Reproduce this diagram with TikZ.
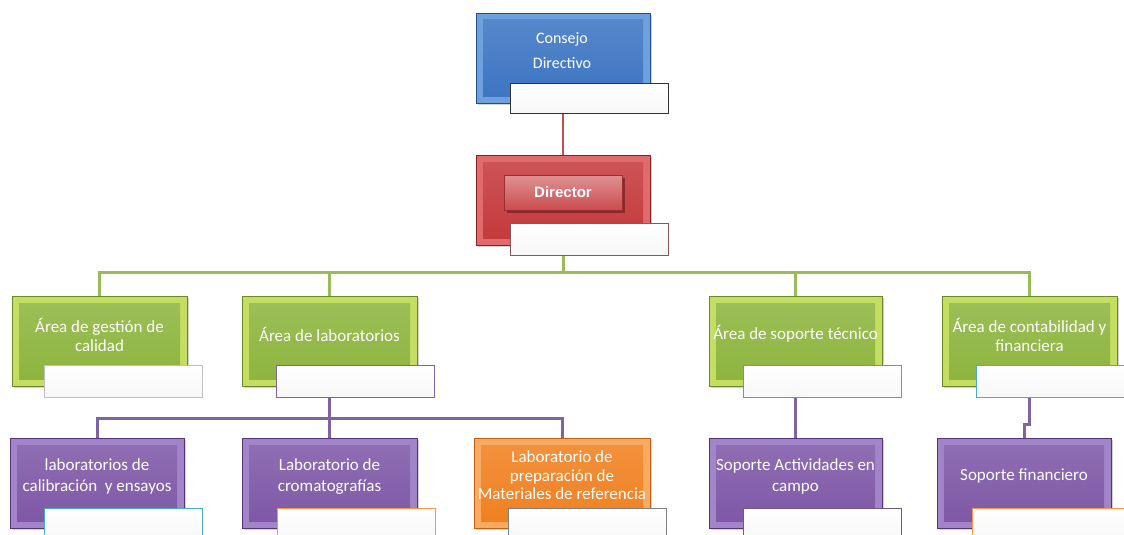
\documentclass[tikz,border=0pt]{standalone}
\usepackage{fontspec}
\setmainfont{Carlito}
\newfontfamily\arialfont{Liberation Sans}
\usetikzlibrary{shadows}
\definecolor{bMain}{HTML}{3B74C2}\definecolor{bBev}{HTML}{6FA0DE}\definecolor{bEdge}{HTML}{1F4E8C}
\definecolor{rMain}{HTML}{C4383B}\definecolor{rBev}{HTML}{E06A6C}\definecolor{rEdge}{HTML}{8B1F22}
\definecolor{gMain}{HTML}{8CB43C}\definecolor{gBev}{HTML}{C4DE62}\definecolor{gEdge}{HTML}{6A8A2A}
\definecolor{pMain}{HTML}{7D56A6}\definecolor{pBev}{HTML}{A285C8}\definecolor{pEdge}{HTML}{56347A}
\definecolor{oMain}{HTML}{F07F1E}\definecolor{oBev}{HTML}{F8AA62}\definecolor{oEdge}{HTML}{C06010}
\definecolor{lnRed}{HTML}{C0504D}\definecolor{lnGreen}{HTML}{9BBB59}\definecolor{lnPurple}{HTML}{8064A2}
\definecolor{edTeal}{HTML}{4BACC6}\definecolor{edOrange}{HTML}{F79646}
\tikzset{
  mainbox/.style n args={3}{rectangle, inner sep=0pt, minimum width=175pt, minimum height=90pt,
    draw=#3, line width=0.8pt, fill=#2,
    drop shadow={shadow xshift=2pt, shadow yshift=-2pt, opacity=0.35},
    path picture={\fill[top color=#1!85!white, bottom color=#1]
      ([shift={(7pt,7pt)}]path picture bounding box.south west) rectangle
      ([shift={(-7pt,-7pt)}]path picture bounding box.north east);}},
  subbox/.style={rectangle, inner sep=0pt, minimum width=158pt, minimum height=31pt,
    draw=#1, line width=1pt, top color=white, bottom color=white!94!gray},
  boxtext/.style={text=white, align=center, font=\fontsize{17}{19}\selectfont, inner sep=0pt},
  conn/.style={line width=3pt, draw=#1},
}
\begin{document}
\begin{tikzpicture}[x=1pt,y=-1pt]
\clip (0,0) rectangle (1124,535);
\fill[white] (0,0) rectangle (1124,535);
\coordinate (busG) at (0,272);
\coordinate (busP) at (0,418);
\coordinate (jog) at (0,424);
% top
\node[mainbox={bMain}{bBev}{bEdge}, minimum width=174pt] (cd) at (563,58) {};
\node[boxtext, font=\fontsize{16}{25}\selectfont] (tcd) at (562,50.5) {Consejo\\Directivo};
\node[subbox=black!80, minimum height=30pt] (csub) at (589,98) {};
% director
\node[mainbox={rMain}{rBev}{rEdge}, minimum width=174pt] (dir) at (563,200) {};
\node[rectangle, inner sep=0pt, minimum width=118pt, minimum height=35pt,
  top color=rMain!55!white, bottom color=rMain!90!white, draw=rMain!80!black,
  drop shadow={shadow xshift=3pt, shadow yshift=-3pt, opacity=0.6, fill=rEdge!70!black},
  text=white, font=\arialfont\bfseries\fontsize{15}{17}\selectfont] (dbar) at (563,192.5) {Director};
\node[subbox=rEdge!40!gray, minimum height=32pt] (dsub) at (589,239) {};
% green row
\node[mainbox={gMain}{gBev}{gEdge}] (g1) at (99.5,341) {};
\node[boxtext] (tg1) at (99.5,334.5) {Área de gestión de\\calidad};
\node[subbox=black!25, minimum height=32pt] (g1sub) at (123,381) {};
\node[mainbox={gMain}{gBev}{gEdge}] (g2) at (329.5,341) {};
\node[boxtext] (tg2) at (329.5,334) {Área de laboratorios};
\node[subbox=lnPurple, minimum height=32pt] (g2sub) at (355.5,381) {};
\node[mainbox={gMain}{gBev}{gEdge}, minimum width=173pt] (g3) at (795.5,341) {};
\node[boxtext] (tg3) at (795.5,334) {Área de soporte técnico};
\node[subbox=black!45, minimum height=32pt] (g3sub) at (822,381) {};
\node[mainbox={gMain}{gBev}{gEdge}] (g4) at (1029.5,341) {};
\node[boxtext] (tg4) at (1029.5,334.5) {Área de contabilidad y\\financiera};
\node[subbox=edTeal, minimum height=32pt] (g4sub) at (1055,381) {};
% bottom row
\node[mainbox={pMain}{pBev}{pEdge}, minimum width=174pt] (b1) at (97,483) {};
\node[boxtext, font=\fontsize{17}{21}\selectfont] (tb1) at (97,476.5) {laboratorios de\\calibración~ y ensayos};
\node[subbox=edTeal] (b1sub) at (123,523.5) {};
\node[mainbox={pMain}{pBev}{pEdge}] (b2) at (329.5,483) {};
\node[boxtext, font=\fontsize{17}{21}\selectfont] (tb2) at (329.5,476.5) {Laboratorio de\\cromatografías};
\node[subbox=edOrange] (b2sub) at (356,523.5) {};
\node[mainbox={oMain}{oBev}{oEdge}, minimum width=176pt] (b3) at (562,483) {};
\node[boxtext, font=\fontsize{17}{18.5}\selectfont] (tb3) at (562,475.5) {Laboratorio de\\preparación de\\Materiales de referencia};
\node[subbox=black!50] (b3sub) at (587.5,523.5) {};
\node[mainbox={pMain}{pBev}{pEdge}, minimum width=173pt] (b4) at (795.5,483) {};
\node[boxtext, font=\fontsize{17}{21}\selectfont] (tb4) at (795.5,476.5) {Soporte Actividades en\\campo};
\node[subbox=pEdge!50!gray] (b4sub) at (822,523.5) {};
\node[mainbox={pMain}{pBev}{pEdge}, minimum width=174pt] (b5) at (1024,483) {};
\node[boxtext] (tb5) at (1024,476) {Soporte financiero};
\node[subbox=edOrange] (b5sub) at (1051,523.5) {};
% connectors
\draw[conn=lnRed, line width=2.5pt] (cd.center |- csub.south) -- (dir.north);
\draw[conn=lnGreen] (dir.center |- dsub.south) -- (dir.center |- busG) -| (g1.north);
\draw[conn=lnGreen] (dir.center |- busG) -| (g2.north);
\draw[conn=lnGreen] (dir.center |- busG) -| (g3.north);
\draw[conn=lnGreen] (dir.center |- busG) -| (g4.north);
\draw[conn=lnPurple] (g2.center |- g2sub.south) -- (g2.center |- busP) -| (b1.north);
\draw[conn=lnPurple] (g2.center |- busP) -| (b2.north);
\draw[conn=lnPurple] (g2.center |- busP) -| (b3.north);
\draw[conn=lnPurple] (g3.center |- g3sub.south) -- (b4.north);
\draw[conn=lnPurple] (g4.center |- g4sub.south) -- (g4.center |- jog) -| (b5.north);
\end{tikzpicture}
\end{document}
